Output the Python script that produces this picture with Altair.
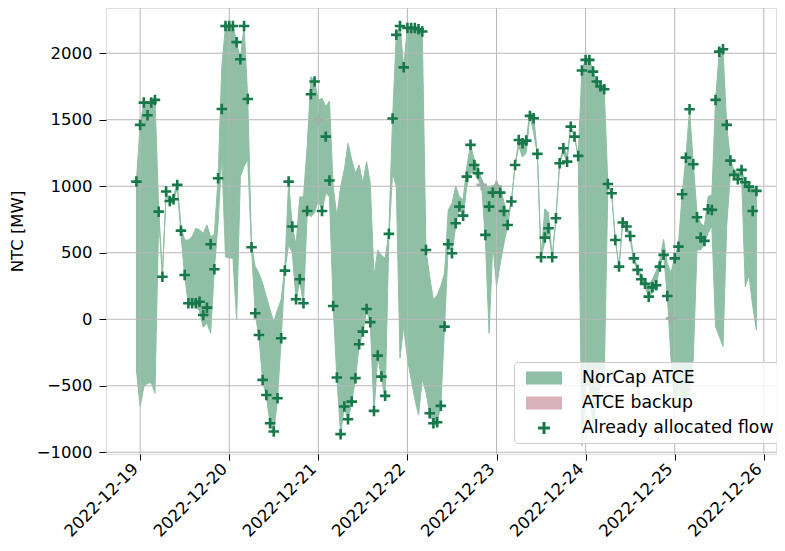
import altair as alt
import pandas as pd

# hours relative to 2022-12-19 00:00
hours = list(range(-1, 167))

flow = [1035, 1461, 1629, 1534, 1629, 1649, 809, 320, 960, 889, 902, 1010, 666, 333, 120, 120, 120, 132, 32, 87,
        564, 376, 1060, 1581, 2205, 2205, 2205, 2083, 1955, 2205, 1656, 541, 45, -118, -456, -569, -782, -844, -594, -143,
        366, 1035, 697, 150, 301, 120, 814, 1692, 1787, 1499, 814, 1373, 1043, 100, -438, -864, -656, -752, -619, -443,
        -188, -93, 77, -22, -689, -273, -431, -576, 642, 1509, 2138, 2205, 1894, 2190, 2190, 2190, 2180, 2163, 521, -707,
        -782, -774, -651, -55, 564, 496, 722, 847, 779, 1072, 1311, 1160, 1098, 1010, 634, 847, 952, 1000, 952, 814,
        709, 885, 1160, 1348, 1323, 1343, 1529, 1511, 1243, 466, 614, 684, 466, 759, 1173, 1286, 1185, 1448, 1373, 1228,
        1870, 1950, 1950, 1862, 1787, 1750, 1729, 1017, 947, 596, 396, 727, 697, 626, 458, 371, 301, 266, 170, 240,
        256, 396, 484, 175, 7, 458, 546, 940, 1215, 1579, 1165, 767, 614, 589, 827, 822, 1649, 2012, 2030, 1461,
        1193, 1085, 1053, 1123, 1030, 997, 814, 965]

upper = [1035, 1461, 1629, 1625, 1629, 1660, 830, 340, 960, 900, 930, 1023, 700, 596, 596, 621, 684, 671, 646, 709,
         620, 640, 1060, 1900, 2205, 2205, 2205, 2083, 1955, 2205, 1656, 560, 396, 346, 270, 170, 70, -18, 70, 150,
         400, 1035, 697, 560, 920, 920, 1300, 1824, 1787, 1649, 1660, 1600, 1640, 1000, 772, 997, 1123, 1323, 1198, 1098,
         1160, 1022, 1185, 1022, 321, 521, 480, 459, 650, 1509, 2138, 2205, 1894, 2200, 2200, 2200, 2190, 2170, 521, 320,
         145, 180, 250, 346, 822, 872, 1000, 920, 900, 1150, 1311, 1200, 1150, 1050, 1000, 1000, 1000, 1030, 1000, 880,
         780, 885, 1160, 1348, 1340, 1343, 1560, 1530, 1243, 466, 830, 800, 466, 759, 1173, 1300, 1230, 1448, 1373, 1228,
         1870, 1960, 1960, 1862, 1787, 1750, 1729, 1017, 947, 596, 396, 750, 700, 640, 470, 390, 330, 300, 260, 300,
         360, 450, 600, 420, 350, 470, 560, 940, 1215, 1579, 1173, 796, 722, 700, 922, 935, 1649, 2012, 2030, 1461,
         1193, 1120, 1100, 1123, 1030, 1000, 1000, 965]

lower = [-380, -657, -507, -482, -477, -556, 760, 320, 930, 870, 880, 990, 640, 321, 110, 108, 100, 60, -60, -30,
         -105, 376, 722, 1223, 470, 460, 460, -5, 1070, 1150, 1200, 541, 40, -130, -460, -580, -790, -860, -600, -150,
         366, 560, 500, 140, 290, 110, 800, 771, 800, 897, 814, 950, 920, 100, -438, -864, -660, -760, -625, -450,
         -195, -100, 70, -30, -700, -280, -440, -600, 600, 1100, 1000, -293, -50, -300, -450, -600, -719, -450, -550, -707,
         -782, -774, -651, -55, 550, 496, 700, 847, 760, 1000, 1100, 1100, 1050, 1000, 596, -105, 571, 245, 420, 571,
         709, 885, 1160, 1300, 1220, 1250, 1529, 1400, 1243, 466, 580, 650, 466, 759, 1173, 1250, 1185, 1448, 1373, 1228,
         -950, -500, -500, -800, -600, -500, -450, 1000, 947, 596, 396, 727, 680, 600, 440, 360, 290, 240, 170, 200,
         256, 396, 484, 175, -300, -650, -500, -700, -600, -550, -293, 521, 521, 570, 650, 700, -55, -130, -205, 700,
         1100, 1085, 1053, 1080, 245, 330, 100, -80]

faded_hours = [48, 92, 96, 143]

day_ticks = [0, 24, 48, 72, 96, 120, 144, 168]
y_ticks = [-1000, -500, 0, 500, 1000, 1500, 2000]

series_names = ["NorCap ATCE", "ATCE backup", "Already allocated flow"]
series_colors = ["#8fbfa4", "#d9b3bb", "#17794a"]

FONT = "DejaVu Sans"
band_color = series_colors[0]
grid_color = "#b8b8b8"

rect_path = "M-1.8,-0.65H1.8V0.65H-1.8Z"
plus_path = "M-0.6,-0.15H-0.15V-0.6H0.15V-0.15H0.6V0.15H0.15V0.6H-0.15V0.15H-0.6Z"
series_shapes = [rect_path, rect_path, plus_path]

df = pd.DataFrame({"hour": hours, "flow": flow, "upper": upper, "lower": lower})
df["series"] = series_names[0]
pts = df[~df["hour"].isin(faded_hours)].copy()
pts["series"] = series_names[2]
faded = df[df["hour"].isin(faded_hours)]

xscale = alt.Scale(domain=[-9.19, 171.28], nice=False, zero=False)
yscale = alt.Scale(domain=[-1013, 2340], nice=False, zero=False)
cscale = alt.Scale(domain=series_names, range=series_colors)
sscale = alt.Scale(domain=series_names, range=series_shapes)

legend = alt.Legend(
    orient="none", legendX=408, legendY=354, title=None,
    labelFontSize=17.3, labelFont=FONT, labelColor="black", labelLimit=0,
    symbolSize=400, padding=6, rowPadding=6, symbolOffset=14, labelOffset=28,
    symbolOpacity=1, symbolStrokeWidth=0,
    strokeColor="#cccccc", fillColor="rgba(255,255,255,0.8)", cornerRadius=4,
)

xaxis = alt.Axis(
    values=day_ticks, labelExpr="'2022-12-' + (19 + datum.value / 24)",
    labelAngle=-45, labelAlign="right", labelBaseline="middle", labelOffset=-5,
    labelFontSize=16.5, labelFont=FONT, labelColor="black",
    tickColor="black", tickSize=6, tickWidth=1, labelPadding=6,
    domain=False, grid=False, title=None, labelOverlap=False, labelFlush=False,
)
yaxis = alt.Axis(
    values=y_ticks, format="d",
    labelFontSize=16.5, labelFont=FONT, labelColor="black",
    tickColor="black", tickSize=7, tickWidth=1, labelPadding=7,
    domain=False, grid=False, title="NTC [MW]", titleFont=FONT, titleFontSize=16.5,
    titleFontWeight="normal", titleColor="black", titlePadding=11,
)

X = lambda f: alt.X(f, scale=xscale, axis=xaxis)
Y = lambda f: alt.Y(f, scale=yscale, axis=yaxis)

area = alt.Chart(df).mark_area(stroke=band_color, strokeWidth=1, interpolate="linear", opacity=1).encode(
    x=X("hour:Q"),
    y=Y("upper:Q"),
    y2="lower:Q",
    color=alt.Color("series:N", scale=cscale, legend=legend),
)

ygrid = alt.Chart(pd.DataFrame({"v": y_ticks})).mark_rule(color=grid_color, strokeWidth=1).encode(
    y=Y("v:Q")
)
xgrid = alt.Chart(pd.DataFrame({"d": day_ticks})).mark_rule(color=grid_color, strokeWidth=1).encode(
    x=X("d:Q")
)

faded_pts = alt.Chart(faded).mark_point(shape=plus_path, filled=True, color="#9fb0a6", size=306, opacity=1).encode(
    x=X("hour:Q"),
    y=Y("flow:Q"),
)

points = alt.Chart(pts).mark_point(filled=True, size=306, opacity=1).encode(
    x=X("hour:Q"),
    y=Y("flow:Q"),
    color=alt.Color("series:N", scale=cscale, legend=legend),
    shape=alt.Shape("series:N", scale=sscale, legend=legend),
)

chart = alt.layer(area, ygrid, xgrid, faded_pts, points).properties(
    width=670, height=446,
    autosize=alt.AutoSizeParams(type="none"),
    padding={"left": 98, "top": 0, "right": 1, "bottom": 88},
).configure_view(stroke="black", strokeWidth=1.2).configure(font=FONT)

chart.save("out.html", embed_options={"renderer": "svg", "actions": False})
